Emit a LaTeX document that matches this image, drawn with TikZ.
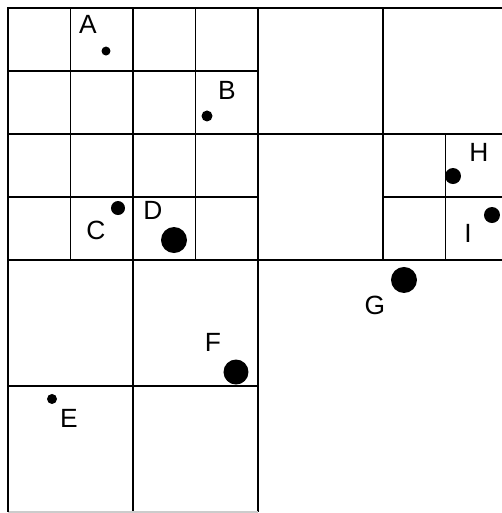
\documentclass[tikz,border=0pt]{standalone}
\usepackage{fontspec}
\setmainfont{Liberation Sans}
\begin{document}
\begin{tikzpicture}[x=1.25cm, y=-1.26cm, line width=0.75pt,
    dot/.style={circle, fill=black, inner sep=0pt, minimum size=#1},
    lbl/.style={inner sep=0pt, font=\fontsize{15}{18}\selectfont}]
            \useasboundingbox (-0.128,-0.127) rectangle (7.904,8.016);
            \clip (-0.128,-0.127) rectangle (7.904,8.016);

            % Fine cells, upper left
            \foreach \k in {1,2,3} {
                \draw (\k,0) -- (\k,4);
                \draw (0,\k) -- (4,\k);
            }
            % Fine cells, right
            \draw (7,2) -- (7,4);
            \draw (6,3) -- (8,3);

            % Coarse cells
            \draw (4,0) -- (4,8);
            \draw (8,0) -- (8,4);
            \draw (0,2) -- (8,2);
            \draw (6,0) -- (6,2);
            \draw (0,4) -- (8,4);
            \draw (0,6) -- (4,6);
            \draw (2,4) -- (2,8);
            \draw[gray!40] (0,8) -- (4,8);

            % Heavy edges
            \draw[line width=1.5pt] (0,8) -- (0,0) -- (8,0);
            \draw[line width=1.5pt] (0,4) -- (1,4);
            \draw[line width=1.5pt] (6,2) -- (6,4);

            % Points
            \node[dot=0.18cm] (A) at (1.568,0.683) {};
            \node[dot=0.22cm] (B) at (3.184,1.714) {};
            \node[dot=0.28cm] (C) at (1.760,3.175) {};
            \node[dot=0.52cm] (D) at (2.656,3.683) {};
            \node[dot=0.20cm] (E) at (0.704,6.206) {};
            \node[dot=0.50cm] (F) at (3.648,5.778) {};
            \node[dot=0.52cm] (G) at (6.336,4.317) {};
            \node[dot=0.32cm] (H) at (7.120,2.667) {};
            \node[dot=0.32cm] (I) at (7.744,3.286) {};

            % Labels
            \node[lbl] (labA) at (1.280,0.254) {A};
            \node[lbl] (labB) at (3.504,1.302) {B};
            \node[lbl] (labC) at (1.408,3.524) {C};
            \node[lbl] (labD) at (2.320,3.206) {D};
            \node[lbl] (labE) at (0.976,6.508) {E};
            \node[lbl] (labF) at (3.280,5.302) {F};
            \node[lbl] (labG) at (5.872,4.714) {G};
            \node[lbl] (labH) at (7.536,2.286) {H};
            \node[lbl] (labI) at (7.360,3.571) {I};
        \end{tikzpicture}
\end{document}
